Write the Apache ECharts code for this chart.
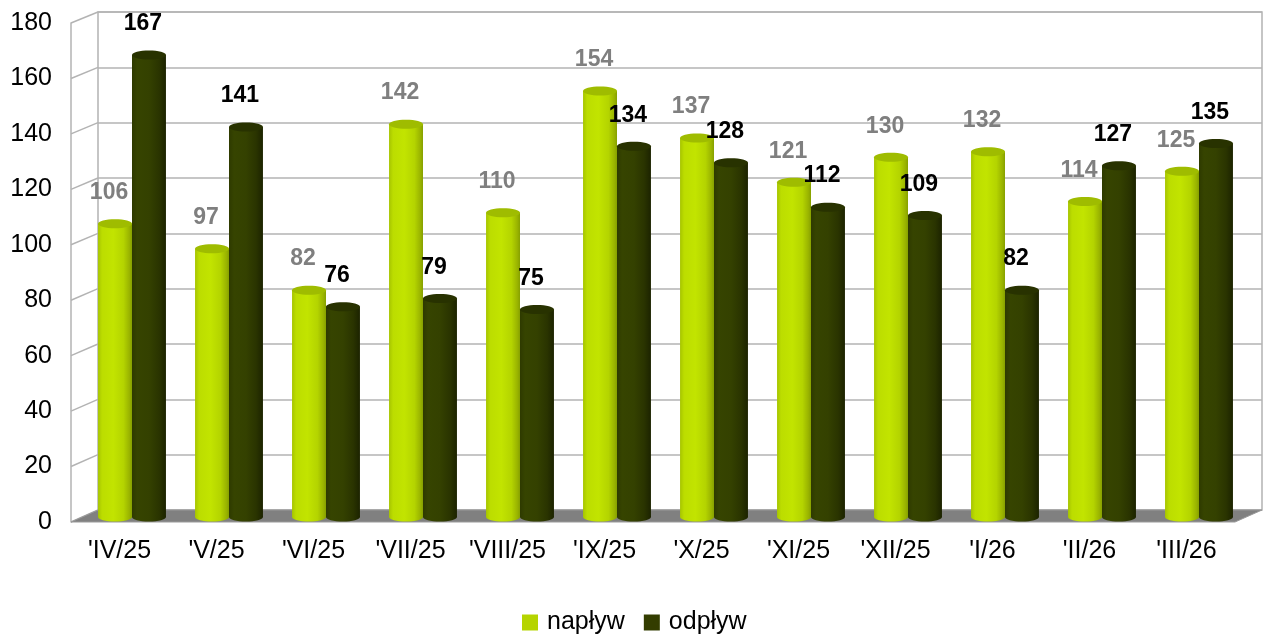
<!DOCTYPE html>
<html>
<head>
<meta charset="utf-8">
<script src="https://cdn.jsdelivr.net/npm/echarts@6/dist/echarts.min.js"></script>
<style>
html,body{margin:0;padding:0;background:#fff;}
#main{width:1263px;height:636px;}
</style>
</head>
<body>
<div id="main"></div>
<script>
var categories = ["'IV/25","'V/25","'VI/25","'VII/25","'VIII/25","'IX/25","'X/25","'XI/25","'XII/25","'I/26","'II/26","'III/26"];
var naplyw = [106, 97, 82, 142, 110, 154, 137, 121, 130, 132, 114, 125];
var odplyw = [167, 141, 76, 79, 75, 134, 128, 112, 109, 82, 127, 135];
var yTicks = [0, 20, 40, 60, 80, 100, 120, 140, 160, 180];

var FONT = '"Liberation Sans", Arial, sans-serif';

function grad(stops){
  return {type:'linear', x:0, y:0, x2:1, y2:0, colorStops: stops};
}
var lightGrad = grad([
  {offset:0, color:'#a6c400'},{offset:0.12, color:'#bcdd00'},{offset:0.45, color:'#c2e400'},
  {offset:0.75, color:'#b4d400'},{offset:0.92, color:'#9ab400'},{offset:1, color:'#86a000'}]);
var darkGrad = grad([
  {offset:0, color:'#2e3a00'},{offset:0.15, color:'#364400'},{offset:0.5, color:'#344100'},
  {offset:0.8, color:'#2a3400'},{offset:1, color:'#1c2300'}]);

function makeRender(idx){
  return function(params, api){
    var i = api.value(0), v = api.value(1);
    var top = api.coord([i, v]);
    var base = api.coord([i, 0]);
    var catW = api.size([1, 0])[0];
    var bw = catW * 0.35;
    var x0 = idx === 0 ? top[0] - bw - 1 : top[0] - 1;
    var ry = 4.5;
    var fill = idx === 0 ? lightGrad : darkGrad;
    var topFill = idx === 0 ? '#9fbc00' : '#283200';
    var lblColor = idx === 0 ? '#7f7f7f' : '#000000';
    return {
      type:'group',
      children:[
        {type:'ellipse', shape:{cx:x0+bw/2, cy:base[1], rx:bw/2, ry:ry}, style:{fill:fill}},
        {type:'rect', shape:{x:x0, y:top[1], width:bw, height:base[1]-top[1]}, style:{fill:fill}},
        {type:'ellipse', shape:{cx:x0+bw/2, cy:top[1], rx:bw/2, ry:ry}, style:{fill:topFill}},
        {type:'text', style:{text:String(v), x:x0+bw/2-6, y:top[1]-31, align:'center', verticalAlign:'middle',
          fill:lblColor, font:'bold 23px ' + FONT}, z2: 10}
      ]
    };
  };
}

var chart = echarts.init(document.getElementById('main'));
var option = {
  animation:false,
  backgroundColor:'#ffffff',
  textStyle:{fontFamily:FONT},
  grid:[
    {left:98, top:12, width:1164, height:498, show:true, borderColor:'#b3b3b3', borderWidth:1.5, backgroundColor:'transparent'},
    {left:71, top:23, width:1164, height:499},
    {left:84.5, top:19, width:1164, height:498}
  ],
  xAxis:[
    {gridIndex:0, type:'category', data:categories, show:false},
    {gridIndex:1, type:'category', data:categories, axisLine:{show:false}, axisTick:{show:false},
      axisLabel:{fontSize:25, color:'#000', margin:17, fontFamily:FONT, interval:0}},
    {gridIndex:2, type:'category', data:categories, show:false}
  ],
  yAxis:[
    {gridIndex:0, type:'value', min:0, max:180, interval:20, axisLabel:{show:false}, axisTick:{show:false},
      axisLine:{show:false}, splitLine:{lineStyle:{color:'#b3b3b3', width:1.5}}},
    {gridIndex:1, type:'value', min:0, max:180, interval:20, axisTick:{show:false}, splitLine:{show:false},
      axisLine:{show:true, lineStyle:{color:'#b3b3b3', width:1.5}},
      axisLabel:{fontSize:25, color:'#000', margin:19, fontFamily:FONT}},
    {gridIndex:2, type:'value', min:0, max:180, interval:20, show:false}
  ],
  legend:{
    left:517, top:605, icon:'rect', itemWidth:16, itemHeight:16, itemGap:19,
    textStyle:{fontSize:25, color:'#000', fontFamily:FONT, padding:[0,0,0,4]},
    data:['napływ','odpływ']
  },
  series:[
    {name:'napływ', type:'custom', xAxisIndex:2, yAxisIndex:2, z:5, itemStyle:{color:'#b5d400'},
      renderItem:makeRender(0), encode:{x:0, y:1},
      data:naplyw.map(function(v,i){return [i,v];})},
    {name:'odpływ', type:'custom', xAxisIndex:2, yAxisIndex:2, z:6, itemStyle:{color:'#333d00'},
      renderItem:makeRender(1), encode:{x:0, y:1},
      data:odplyw.map(function(v,i){return [i,v];})}
  ]
};
chart.setOption(option);

// side wall & floor built from the axes' own scales
var els = [];
yTicks.forEach(function(t){
  var f = chart.convertToPixel({gridIndex:1}, [0, t]);
  var b = chart.convertToPixel({gridIndex:0}, [0, t]);
  els.push({type:'line', shape:{x1:71, y1:f[1], x2:98, y2:b[1]}, style:{stroke:'#b3b3b3', lineWidth:1.5}, z:1});
});
var f0 = chart.convertToPixel({gridIndex:1}, [0, 0])[1];
var b0 = chart.convertToPixel({gridIndex:0}, [0, 0])[1];
els.push({type:'polygon', shape:{points:[[71,f0],[98,b0],[1262,b0],[1235,f0]]},
  style:{fill:'#808080', stroke:'#9a9a9a', lineWidth:1}, z:2});
chart.setOption({graphic:{elements:els}});
</script>
</body>
</html>
